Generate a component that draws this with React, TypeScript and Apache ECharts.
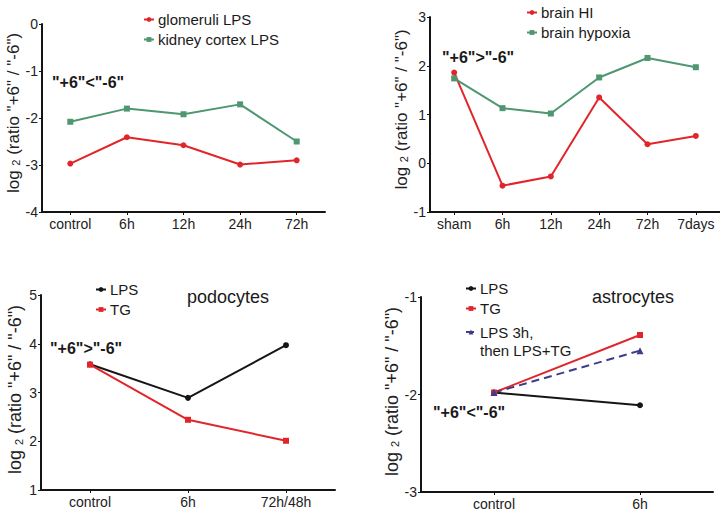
import React, { useEffect, useRef } from "react";
import * as echarts from "echarts";

const FONT = "Liberation Sans, Arial, sans-serif";
const RED = "#e1262b";
const GREEN = "#4f9770";
const BLACK = "#151515";
const NAVY = "#3e3c88";

// Panel 1: kidney
const cats1 = ["control", "6h", "12h", "24h", "72h"];
const glomeruliLPS = [-2.97, -2.41, -2.58, -2.99, -2.9];
const kidneyCortexLPS = [-2.08, -1.8, -1.92, -1.71, -2.5];

// Panel 2: brain
const cats2 = ["sham", "6h", "12h", "24h", "72h", "7days"];
const brainHI = [1.86, -0.46, -0.27, 1.35, 0.39, 0.56];
const brainHypoxia = [1.74, 1.13, 1.02, 1.76, 2.16, 1.97];

// Panel 3: podocytes
const cats3 = ["control", "6h", "72h/48h"];
const podoLPS = [3.58, 2.89, 3.97];
const podoTG = [3.57, 2.44, 2.01];

// Panel 4: astrocytes
const cats4 = ["control", "6h"];
const astroLPS = [-1.98, -2.11];
const astroTG = [-1.98, -1.39];
const astroLPS3hTG = [-1.98, -1.55];

const COMBO = "LPS 3h, then LPS+TG";
const yName = '{a|log }{s|2}{a| (ratio "+6" / "-6")}';

function yAxis(gridIndex: number, min: number, max: number, big: boolean) {
  const fs = big ? 18 : 17;
  return {
    type: "value",
    gridIndex,
    min,
    max,
    interval: 1,
    splitLine: { show: false },
    axisLine: { show: true, onZero: false, lineStyle: { color: BLACK, width: 2 } },
    axisTick: { show: true, length: 3, lineStyle: { color: BLACK, width: 1 } },
    axisLabel: { color: "#222", fontSize: 14, fontFamily: FONT, margin: 4 },
    name: yName,
    nameLocation: "middle",
    nameRotate: 90,
    nameGap: 17,
    nameTextStyle: {
      padding: [0, 0, 0, big ? 6 : 10],
      rich: {
        a: { fontSize: fs, color: "#222", fontFamily: FONT },
        s: { fontSize: 11, color: "#222", fontFamily: FONT, verticalAlign: "bottom" },
      },
    },
  };
}

function xAxis(gridIndex: number, data: string[]) {
  return {
    type: "category",
    gridIndex,
    data,
    boundaryGap: true,
    axisLine: { show: true, onZero: false, lineStyle: { color: BLACK, width: 2 } },
    axisTick: { show: true, alignWithLabel: true, length: 3, lineStyle: { color: BLACK, width: 1 } },
    axisLabel: { color: "#222", fontSize: 14, fontFamily: FONT, margin: 5, interval: 0 },
    splitLine: { show: false },
  };
}

function line(name: string, data: number[], idx: number, color: string, symbol: string, size: number, dashed = false) {
  return {
    type: "line",
    name,
    data,
    xAxisIndex: idx,
    yAxisIndex: idx,
    symbol,
    symbolSize: size,
    showSymbol: true,
    lineStyle: { color, width: 2, type: dashed ? [8, 5] : "solid" },
    itemStyle: { color },
    z: 3,
  };
}

function legend(left: number, top: number, data: any[], extra: any = {}) {
  return {
    orient: "vertical",
    left,
    top,
    padding: 0,
    itemWidth: 10,
    itemHeight: 6,
    itemGap: 5,
    selectedMode: false,
    textStyle: { fontSize: 15, color: "#1a1a1a", fontFamily: FONT, padding: [0, 0, 0, -1] },
    data,
    ...extra,
  };
}

function note(text: string, x: number, y: number) {
  return {
    type: "text",
    x,
    y,
    style: {
      text,
      fontSize: 16,
      fontWeight: "bold",
      fontFamily: FONT,
      fill: "#1a1a1a",
      verticalAlign: "middle",
    },
  };
}

export default function App() {
  const ref = useRef<HTMLDivElement>(null);
  useEffect(() => {
    if (!ref.current) return;
    const chart = echarts.init(ref.current, undefined, { renderer: "svg" });
    chart.setOption({
      animation: false,
      backgroundColor: "#ffffff",
      grid: [
        { left: 42, top: 24, width: 283, height: 188 },
        { left: 430, top: 17, width: 292, height: 195 },
        { left: 41, top: 295, width: 294, height: 195 },
        { left: 421, top: 297, width: 292, height: 195 },
      ],
      xAxis: [xAxis(0, cats1), xAxis(1, cats2), xAxis(2, cats3), xAxis(3, cats4)],
      yAxis: [yAxis(0, -4, 0, false), yAxis(1, -1, 3, false), yAxis(2, 1, 5, true), yAxis(3, -3, -1, true)],
      legend: [
        legend(143, 12, ["glomeruli LPS", "kidney cortex LPS"]),
        legend(526, 5, ["brain HI", "brain hypoxia"]),
        legend(95, 282, ["LPS", "TG"]),
        legend(465, 281, ["LPS", "TG"]),
        legend(465, 305, [COMBO], {
          formatter: (n: string) => "\n" + n.replace(", ", ",\n"),
          textStyle: { fontSize: 15, lineHeight: 18, color: "#1a1a1a", fontFamily: FONT, padding: [0, 0, 0, -1] },
        }),
      ],
      title: [
        { text: "podocytes", left: 187, top: 288, padding: 0, textStyle: { fontSize: 18, fontWeight: "normal", color: "#1a1a1a", fontFamily: FONT } },
        { text: "astrocytes", left: 592, top: 288, padding: 0, textStyle: { fontSize: 18, fontWeight: "normal", color: "#1a1a1a", fontFamily: FONT } },
      ],
      graphic: [
        note('"+6"<"-6"', 52, 82),
        note('"+6">"-6"', 442, 57),
        note('"+6">"-6"', 50, 348),
        note('"+6"<"-6"', 433, 412),
      ],
      series: [
        line("glomeruli LPS", glomeruliLPS, 0, RED, "circle", 6),
        line("kidney cortex LPS", kidneyCortexLPS, 0, GREEN, "rect", 6),
        line("brain HI", brainHI, 1, RED, "circle", 6),
        line("brain hypoxia", brainHypoxia, 1, GREEN, "rect", 6),
        line("LPS", podoLPS, 2, BLACK, "circle", 6),
        line("TG", podoTG, 2, RED, "rect", 6),
        line("LPS", astroLPS, 3, BLACK, "circle", 6),
        line("TG", astroTG, 3, RED, "rect", 6),
        line(COMBO, astroLPS3hTG, 3, NAVY, "triangle", 7, true),
      ],
    });
    return () => chart.dispose();
  }, []);
  return <div ref={ref} style={{ position: "fixed", left: 0, top: 0, width: 720, height: 514 }} />;
}
